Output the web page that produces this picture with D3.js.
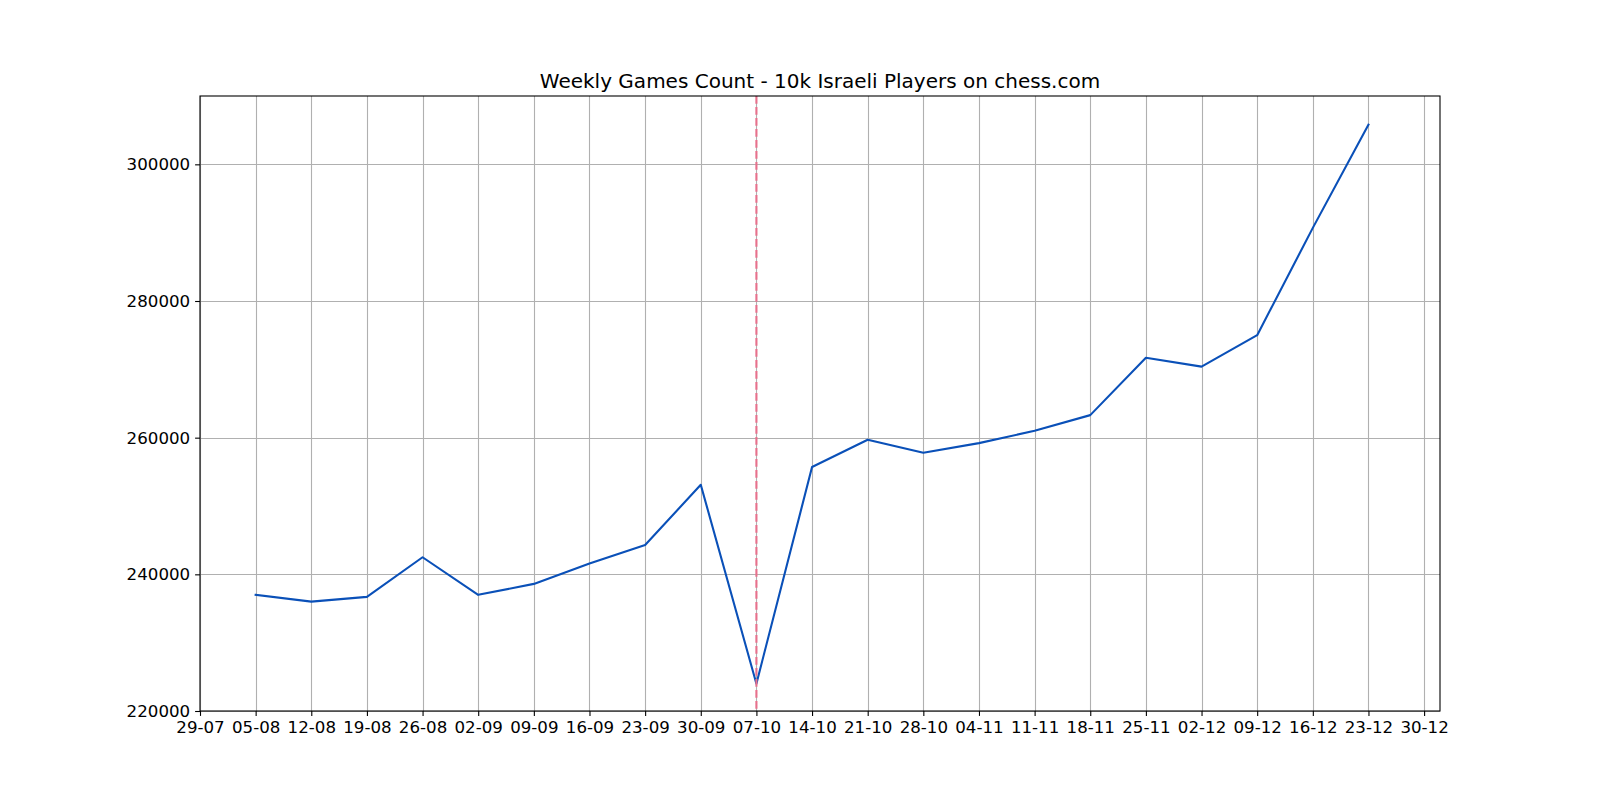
<!DOCTYPE html>
<html>
<head>
<meta charset="utf-8">
<script src="https://cdn.jsdelivr.net/npm/d3@7"></script>
<style>
  html, body { margin: 0; padding: 0; background: #fff; }
  svg { display: block; font-family: "DejaVu Sans", sans-serif; }
</style>
</head>
<body>
<svg id="chart" width="1600" height="800"></svg>
<script>
// ---- data ----
const weeks = ["2023-08-05","2023-08-12","2023-08-19","2023-08-26","2023-09-02","2023-09-09",
  "2023-09-16","2023-09-23","2023-09-30","2023-10-07","2023-10-14","2023-10-21","2023-10-28",
  "2023-11-04","2023-11-11","2023-11-18","2023-11-25","2023-12-02","2023-12-09","2023-12-16","2023-12-23"];
const games = [237000, 236000, 236700, 242500, 237000, 238600, 241600, 244300, 253100, 224000,
  255700, 259700, 257800, 259200, 261000, 263300, 271700, 270400, 275000, 290700, 305800];
const eventDate = "2023-10-07";
const xTickDates = ["2023-07-29","2023-08-05","2023-08-12","2023-08-19","2023-08-26","2023-09-02",
  "2023-09-09","2023-09-16","2023-09-23","2023-09-30","2023-10-07","2023-10-14","2023-10-21",
  "2023-10-28","2023-11-04","2023-11-11","2023-11-18","2023-11-25","2023-12-02","2023-12-09",
  "2023-12-16","2023-12-23","2023-12-30"];
const yTicks = [220000, 240000, 260000, 280000, 300000];
const xDomain = ["2023-07-29", "2024-01-01"];
const yDomain = [220000, 310000];
const title = "Weekly Games Count - 10k Israeli Players on chess.com";

// ---- layout ----
const parse = d3.utcParse("%Y-%m-%d");
const fmt = d3.utcFormat("%d-%m");
const L = 200, R = 1440, T = 96, B = 711;
const svg = d3.select("#chart");

const x = d3.scaleUtc().domain(xDomain.map(parse)).range([L, R]);
const y = d3.scaleLinear().domain(yDomain).range([B, T]);

const data = weeks.map((d, i) => ({ date: parse(d), value: games[i] }));
const tickDates = xTickDates.map(parse);

// grid
const grid = svg.append("g").attr("stroke", "#b0b0b0").attr("stroke-width", 1.1);
grid.selectAll(".vx").data(tickDates).join("line")
  .attr("x1", d => Math.round(x(d)) + 0.5).attr("x2", d => Math.round(x(d)) + 0.5)
  .attr("y1", T).attr("y2", B);
grid.selectAll(".hy").data(yTicks).join("line")
  .attr("x1", L).attr("x2", R)
  .attr("y1", d => Math.round(y(d)) + 0.5).attr("y2", d => Math.round(y(d)) + 0.5);

// line
const line = d3.line().x(d => x(d.date)).y(d => y(d.value));
svg.append("path").datum(data)
  .attr("fill", "none").attr("stroke", "#0a50b8").attr("stroke-width", 2.1)
  .attr("stroke-linejoin", "round").attr("stroke-linecap", "square")
  .attr("d", line);

// event line
const ex = x(parse(eventDate));
svg.append("line")
  .attr("x1", ex).attr("x2", ex).attr("y1", T).attr("y2", B)
  .attr("stroke", "#e8708c").attr("stroke-width", 2.1)
  .attr("stroke-dasharray", "7.7,3.3");

// axes
const xAxis = d3.axisBottom(x).tickValues(tickDates).tickFormat(fmt)
  .tickSize(4.9).tickPadding(4.9);
const gx = svg.append("g").attr("transform", `translate(0,${B})`).call(xAxis);
const yAxis = d3.axisLeft(y).tickValues(yTicks).tickFormat(d3.format("d"))
  .tickSize(4.9).tickPadding(4.9);
const gy = svg.append("g").attr("transform", `translate(${L},0)`).call(yAxis);
[gx, gy].forEach(g => {
  g.select(".domain").remove();
  g.selectAll(".tick line").attr("stroke", "#000").attr("stroke-width", 1.1);
  g.selectAll(".tick text").attr("fill", "#000")
    .attr("font-family", "DejaVu Sans").attr("font-size", "16.67px");
});

// frame
svg.append("rect").attr("x", L).attr("y", T).attr("width", R - L).attr("height", B - T)
  .attr("fill", "none").attr("stroke", "#000").attr("stroke-width", 1.1);

// title
svg.append("text").attr("x", (L + R) / 2).attr("y", 88)
  .attr("text-anchor", "middle").attr("font-size", "20px").attr("fill", "#000")
  .text(title);
</script>
</body>
</html>
